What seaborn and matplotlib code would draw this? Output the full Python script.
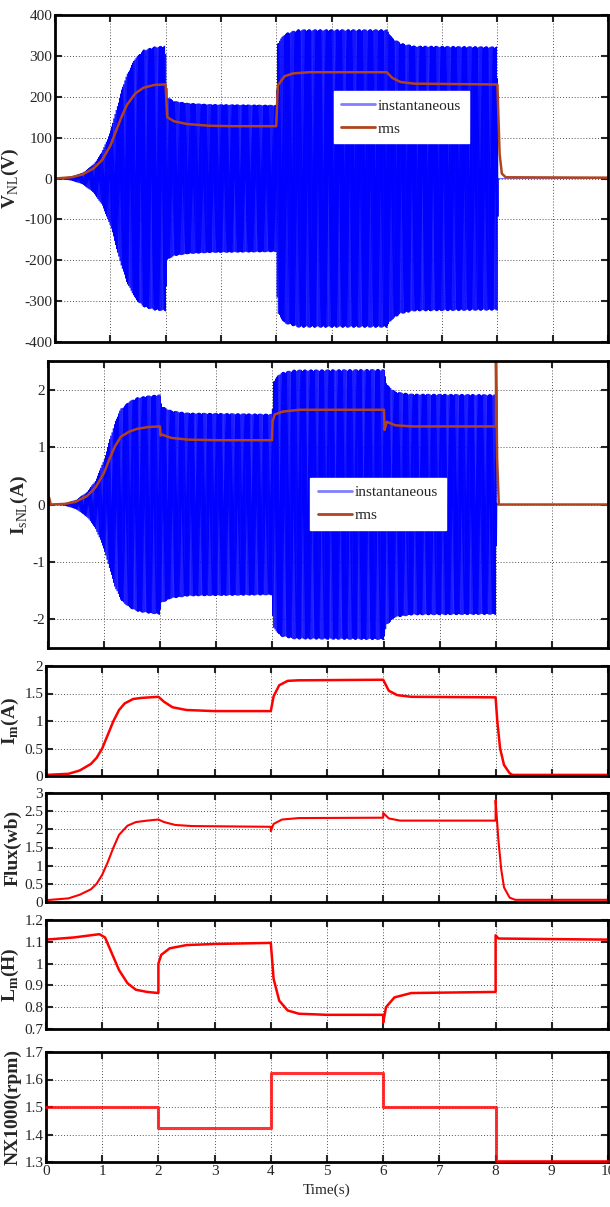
import numpy as np
import pandas as pd
import matplotlib
matplotlib.use("Agg")
import matplotlib.pyplot as plt
import seaborn as sns

# ---- data (time in s) ----
# no-load voltage rms envelope
v_rms_t = [0, 0.3, 0.5, 0.7, 0.85, 1.0, 1.1, 1.2, 1.3, 1.45, 1.6, 1.8, 2.0, 2.03, 2.15, 2.4, 2.8, 3.2, 4.0, 4.03, 4.15, 4.3, 4.6, 6.0, 6.1, 6.25, 6.5, 8.0, 8.04, 8.08, 8.15, 10]
v_rms = [0, 3, 10, 25, 45, 80, 115, 150, 180, 208, 222, 229, 230, 150, 140, 133, 129, 128, 128, 228, 250, 257, 260, 260, 246, 236, 232, 230, 60, 12, 3, 2]
# peak of the instantaneous voltage
v_pk_t = [0, 0.3, 0.5, 0.7, 0.85, 1.0, 1.1, 1.2, 1.3, 1.45, 1.6, 1.8, 2.0, 2.03, 2.15, 2.4, 2.8, 4.0, 4.02, 4.15, 4.4, 6.0, 6.1, 6.25, 6.5, 8.0, 8.02, 10]
v_pk = [0, 5, 14, 35, 65, 115, 165, 215, 255, 295, 315, 323, 325, 200, 190, 185, 182, 180, 330, 355, 365, 365, 345, 332, 325, 323, 0, 0]

# no-load stator current
i_rms_t = [0, 0.02, 0.05, 0.3, 0.5, 0.7, 0.85, 1.0, 1.1, 1.2, 1.3, 1.45, 1.6, 1.8, 2.0, 2.01, 2.03, 2.2, 2.5, 3.0, 4.0, 4.01, 4.05, 4.2, 4.5, 6.0, 6.01, 6.05, 6.2, 6.5, 8.0, 8.0, 8.02, 8.05, 10]
i_rms = [0, 0.12, 0.0, 0.01, 0.05, 0.15, 0.3, 0.55, 0.8, 1.02, 1.18, 1.27, 1.32, 1.35, 1.36, 1.2, 1.22, 1.16, 1.13, 1.12, 1.12, 1.45, 1.57, 1.62, 1.65, 1.65, 1.3, 1.44, 1.38, 1.36, 1.36, 2.5, 0.8, 0.0, 0.0]
i_pk_t = [0, 0.3, 0.5, 0.7, 0.85, 1.0, 1.1, 1.2, 1.3, 1.45, 1.6, 1.8, 2.0, 2.03, 2.2, 2.5, 4.0, 4.02, 4.15, 4.4, 6.0, 6.05, 6.2, 6.5, 8.0, 8.02, 10]
i_pk = [0, 0.02, 0.08, 0.22, 0.42, 0.78, 1.13, 1.45, 1.67, 1.8, 1.87, 1.9, 1.92, 1.72, 1.64, 1.6, 1.58, 2.15, 2.3, 2.35, 2.36, 2.1, 1.97, 1.93, 1.92, 0, 0]

# magnetizing current
im_t = [0, 0.4, 0.6, 0.8, 0.9, 1.0, 1.1, 1.2, 1.3, 1.4, 1.55, 1.7, 2.0, 2.1, 2.25, 2.5, 3.0, 4.0, 4.05, 4.15, 4.3, 4.5, 6.0, 6.1, 6.25, 6.5, 8.0, 8.03, 8.08, 8.15, 8.25, 8.3, 10]
im = [0.02, 0.04, 0.1, 0.22, 0.33, 0.5, 0.75, 1.0, 1.2, 1.32, 1.4, 1.42, 1.44, 1.35, 1.25, 1.2, 1.18, 1.18, 1.45, 1.65, 1.73, 1.74, 1.75, 1.55, 1.47, 1.44, 1.43, 1.0, 0.5, 0.2, 0.05, 0.02, 0.02]

# flux
flux_t = [0, 0.4, 0.6, 0.8, 0.9, 1.0, 1.1, 1.2, 1.3, 1.45, 1.6, 1.8, 2.0, 2.1, 2.3, 2.6, 4.0, 4.0, 4.05, 4.2, 4.5, 6.0, 6.0, 6.1, 6.3, 8.0, 8.0, 8.05, 8.1, 8.15, 8.25, 8.35, 10]
flux = [0.05, 0.1, 0.2, 0.35, 0.5, 0.75, 1.1, 1.5, 1.85, 2.1, 2.2, 2.24, 2.27, 2.2, 2.12, 2.09, 2.07, 1.95, 2.15, 2.27, 2.31, 2.32, 2.45, 2.3, 2.24, 2.24, 2.8, 1.7, 0.9, 0.4, 0.12, 0.06, 0.06]

# magnetizing inductance
lm_t = [0, 0.5, 0.8, 0.95, 1.05, 1.15, 1.3, 1.45, 1.6, 1.8, 2.0, 2.0, 2.05, 2.2, 2.5, 3.0, 4.0, 4.05, 4.15, 4.3, 4.5, 5.0, 6.0, 6.0, 6.05, 6.2, 6.5, 8.0, 8.0, 8.05, 10]
lm = [1.11, 1.12, 1.13, 1.135, 1.12, 1.06, 0.97, 0.91, 0.88, 0.87, 0.865, 1.0, 1.04, 1.07, 1.085, 1.09, 1.095, 0.93, 0.83, 0.785, 0.77, 0.765, 0.765, 0.73, 0.8, 0.845, 0.865, 0.87, 1.13, 1.115, 1.11]

# rotor speed / 1000
n_t = [0, 2, 2, 4, 4, 6, 6, 8, 8, 10]
n_rpm = [1.5, 1.5, 1.425, 1.425, 1.625, 1.625, 1.5, 1.5, 1.302, 1.302]

f_supply = 50.0  # Hz, carrier of the instantaneous traces

# ---- build the instantaneous traces ----
t = np.arange(0, 10, 1 / 1010.0)
v_inst = np.interp(t, v_pk_t, v_pk) * np.sin(2 * np.pi * f_supply * t)
i_inst = np.interp(t, i_pk_t, i_pk) * np.sin(2 * np.pi * f_supply * t + 0.6)
inst_v = pd.DataFrame({"t": t, "v": v_inst})
inst_i = pd.DataFrame({"t": t, "i": i_inst})

sns.set_style("ticks")
plt.rcParams["font.family"] = ["Liberation Serif", "DejaVu Serif"]
plt.rcParams["mathtext.fontset"] = "custom"
plt.rcParams["mathtext.rm"] = "Liberation Serif"
plt.rcParams["mathtext.bf"] = "Liberation Serif:bold"

H = 1207.0
fig = plt.figure(figsize=(6.1, 12.07), dpi=100)

def box(left_px, top_px, bottom_px):
    return [left_px / 610.0, 1 - bottom_px / H, (608 - left_px) / 610.0, (bottom_px - top_px) / H]

ax1 = fig.add_axes(box(55, 15, 342))
ax2 = fig.add_axes(box(48, 361, 648))
ax3 = fig.add_axes(box(46, 666, 776))
ax4 = fig.add_axes(box(46, 793, 902))
ax5 = fig.add_axes(box(46, 920, 1029))
ax6 = fig.add_axes(box(46, 1052, 1162))

blue = "#0000ff"
rms_col = "#b0441c"
red = "#ff0000"

sns.lineplot(data=inst_v, x="t", y="v", ax=ax1, color=blue, lw=0.4, estimator=None, sort=False, label="instantaneous")
sns.lineplot(x=v_rms_t, y=v_rms, ax=ax1, color=rms_col, lw=1.8, estimator=None, sort=False, label="rms")
sns.lineplot(data=inst_i, x="t", y="i", ax=ax2, color=blue, lw=0.4, estimator=None, sort=False, label="instantaneous")
sns.lineplot(x=i_rms_t, y=i_rms, ax=ax2, color=rms_col, lw=1.8, estimator=None, sort=False, label="rms")
sns.lineplot(x=im_t, y=im, ax=ax3, color=red, lw=1.8, estimator=None, sort=False)
sns.lineplot(x=flux_t, y=flux, ax=ax4, color=red, lw=1.5, estimator=None, sort=False)
sns.lineplot(x=lm_t, y=lm, ax=ax5, color=red, lw=1.8, estimator=None, sort=False)
sns.lineplot(x=n_t, y=n_rpm, ax=ax6, color=red, lw=2.2, alpha=0.8, estimator=None, sort=False)
for ln in ax6.get_lines():
    ln.set_clip_on(False)
    ln.set_zorder(5)

specs = [
    (ax1, (-400, 400), np.arange(-400, 401, 100), r"V$_{\mathrm{NL}}$(V)"),
    (ax2, (-2.5, 2.5), np.arange(-2, 2.1, 1), r"I$_{\mathrm{sNL}}$(A)"),
    (ax3, (0, 2), np.arange(0, 2.01, 0.5), r"I$_{\mathbf{m}}$(A)"),
    (ax4, (0, 3), np.arange(0, 3.01, 0.5), "Flux(wb)"),
    (ax5, (0.7, 1.2), np.arange(0.7, 1.201, 0.1), r"L$_{\mathbf{m}}$(H)"),
    (ax6, (1.3, 1.7), np.arange(1.3, 1.701, 0.1), "NX1000(rpm)"),
]
for ax, ylim, yt, lab in specs:
    ax.set_xlim(0, 10)
    ax.set_ylim(*ylim)
    ax.set_xticks(range(0, 11))
    ax.set_yticks(yt)
    ax.set_yticklabels([("%g" % v) for v in yt])
    ax.grid(True, ls=(0, (1, 2)), color="#555555", lw=0.7)
    ax.tick_params(direction="in", top=True, right=True, length=5, width=1.5, labelsize=11, pad=2)
    for s in ax.spines.values():
        s.set_linewidth(2)
        s.set_color("black")
    ax.set_ylabel(lab, fontsize=14, fontweight="bold", labelpad=2)
    if ax is not ax6:
        ax.set_xticklabels([])
    ax.set_xlabel("")

ax6.set_xlabel("Time(s)", fontsize=11, labelpad=4)

for ax, anchor in [(ax1, (0.49, 0.79)), (ax2, (0.455, 0.62))]:
    leg = ax.legend(loc="upper left", bbox_to_anchor=anchor, frameon=True, fancybox=False,
                    fontsize=11, handlelength=2.2, handletextpad=0.2, borderpad=0.5,
                    labelspacing=0.6)
    leg.get_frame().set_edgecolor("white")
    leg.get_frame().set_alpha(1.0)
    leg.get_lines()[0].set_color("#8080ff")
    for ln in leg.get_lines():
        ln.set_linewidth(2)

fig.savefig("out.png", dpi=100)
